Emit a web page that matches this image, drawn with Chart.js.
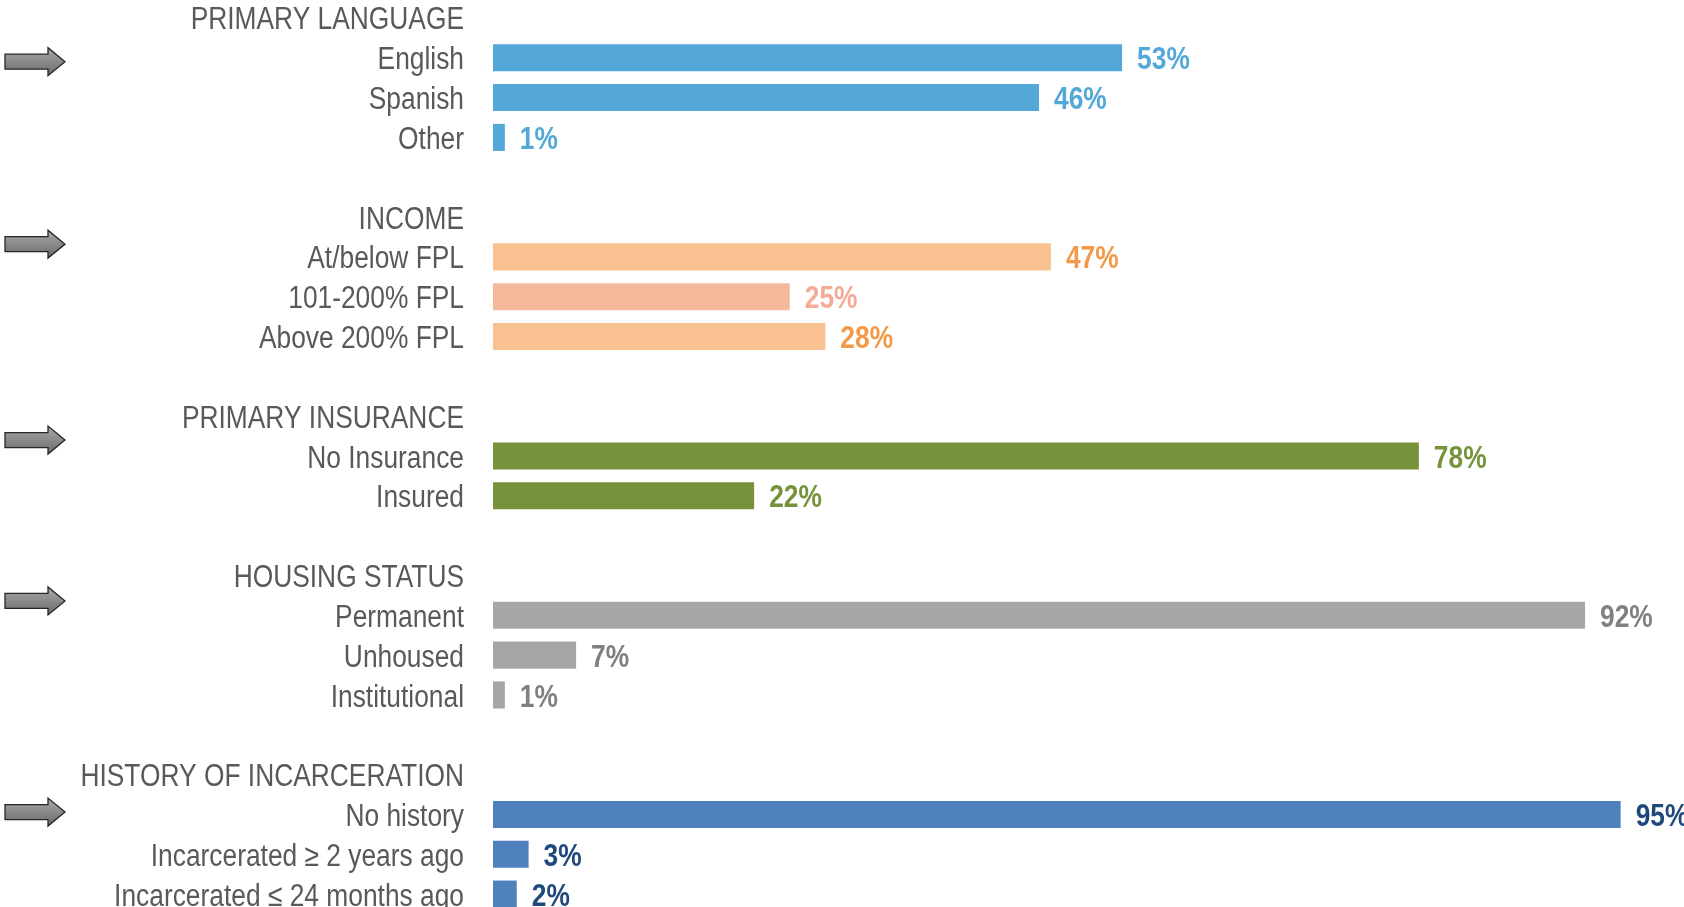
<!DOCTYPE html>
<html>
<head>
<meta charset="utf-8">
<script src="https://cdn.jsdelivr.net/npm/chart.js@4.4.1/dist/chart.umd.min.js"></script>
<style>
  html, body { margin: 0; padding: 0; background: #fff; overflow: hidden; }
  #wrap { position: relative; width: 1684px; height: 907px; overflow: hidden; }
  #profileChart { position: absolute; left: 0; top: -2px; }
</style>
</head>
<body>
<div id="wrap"><canvas id="profileChart" width="1684" height="916"></canvas></div>
<script>
// rows: group headers, items, and blank spacer rows
const categories = [
    'PRIMARY LANGUAGE', 'English', 'Spanish', 'Other', '',
    'INCOME', 'At/below FPL', '101-200% FPL', 'Above 200% FPL', '',
    'PRIMARY INSURANCE', 'No Insurance', 'Insured', '',
    'HOUSING STATUS', 'Permanent', 'Unhoused', 'Institutional', '',
    'HISTORY OF INCARCERATION', 'No history', 'Incarcerated \u2265 2 years ago', 'Incarcerated \u2264 24 months ago'
];
const percents = [
    null, 53, 46, 1, null,
    null, 47, 25, 28, null,
    null, 78, 22, null,
    null, 92, 7, 1, null,
    null, 95, 3, 2
];
const barColors = [
    null, '#54A8D8', '#54A8D8', '#54A8D8', null,
    null, '#F9C18F', '#F4B89B', '#F9C18F', null,
    null, '#76933C', '#76933C', null,
    null, '#A6A6A6', '#A6A6A6', '#A6A6A6', null,
    null, '#4F81BD', '#4F81BD', '#4F81BD'
];
const labelColors = [
    null, '#54A8D8', '#54A8D8', '#54A8D8', null,
    null, '#F39A4A', '#F5AB96', '#F39A4A', null,
    null, '#76933C', '#76933C', null,
    null, '#808080', '#808080', '#808080', null,
    null, '#1F497D', '#1F497D', '#1F497D'
];
// arrows sit next to each group (fractional row index)
const arrowRows = [1.1, 5.68, 10.6, 14.64, 19.94];

// Liberation Sans squeezed sideways to look like Arial Narrow
const FONT = '"Liberation Sans", Arial, sans-serif';
const NARROW = 0.85;

function narrowText(ctx, text, x, y) {
    ctx.save();
    ctx.translate(x, y);
    ctx.scale(NARROW, 1);
    ctx.fillText(text, 0, 0);
    ctx.restore();
}

const rowLabels = {
    id: 'rowLabels',
    afterDraw(chart) {
        const ctx = chart.ctx;
        const y = chart.scales.y;
        ctx.save();
        ctx.font = '31px ' + FONT;
        ctx.fillStyle = '#595959';
        ctx.textAlign = 'right';
        ctx.textBaseline = 'middle';
        categories.forEach(function(c, i) {
            if (!c) return;
            narrowText(ctx, c, y.right - 29, y.getPixelForValue(i) + 3);
        });
        ctx.restore();
    }
};

const valueLabels = {
    id: 'valueLabels',
    afterDatasetsDraw(chart) {
        const ctx = chart.ctx;
        const meta = chart.getDatasetMeta(0);
        ctx.save();
        ctx.font = 'bold 31px ' + FONT;
        ctx.textAlign = 'left';
        ctx.textBaseline = 'middle';
        meta.data.forEach(function(bar, i) {
            const v = percents[i];
            if (v === null) return;
            ctx.fillStyle = labelColors[i];
            narrowText(ctx, v + '%', bar.x + 15, bar.y + 3);
        });
        ctx.restore();
    }
};

const arrows = {
    id: 'arrows',
    afterDraw(chart) {
        const ctx = chart.ctx;
        const y = chart.scales.y;
        ctx.save();
        arrowRows.forEach(function(r) {
            const cy = y.getPixelForValue(r);
            const x0 = 5, x1 = 65, head = 17, shaft = 7.5, half = 14;
            ctx.beginPath();
            ctx.moveTo(x0, cy - shaft);
            ctx.lineTo(x1 - head, cy - shaft);
            ctx.lineTo(x1 - head, cy - half);
            ctx.lineTo(x1, cy);
            ctx.lineTo(x1 - head, cy + half);
            ctx.lineTo(x1 - head, cy + shaft);
            ctx.lineTo(x0, cy + shaft);
            ctx.closePath();
            const g = ctx.createLinearGradient(0, cy - half, 0, cy + half);
            g.addColorStop(0, '#A8A8A8');
            g.addColorStop(0.5, '#8A8A8A');
            g.addColorStop(1, '#6A6A6A');
            ctx.fillStyle = g;
            ctx.fill();
            ctx.lineWidth = 1.3;
            ctx.strokeStyle = '#262626';
            ctx.stroke();
        });
        ctx.restore();
    }
};

const ctx = document.getElementById('profileChart').getContext('2d');
new Chart(ctx, {
    type: 'bar',
    data: {
        labels: categories,
        datasets: [{
            data: percents,
            backgroundColor: barColors,
            borderWidth: 0,
            categoryPercentage: 1,
            barPercentage: 0.68
        }]
    },
    options: {
        indexAxis: 'y',
        responsive: false,
        animation: false,
        devicePixelRatio: 1,
        layout: { padding: { top: 0, bottom: 0, left: 0, right: 4 } },
        plugins: {
            legend: { display: false },
            tooltip: { enabled: false }
        },
        scales: {
            x: {
                display: false,
                min: 0,
                max: 100
            },
            y: {
                grid: { display: false },
                border: { display: false },
                ticks: { display: false, autoSkip: false },
                afterFit: function(scale) {
                    scale.width = 493; // bars start here
                    scale.paddingTop = 0;
                    scale.paddingBottom = 0;
                }
            }
        }
    },
    plugins: [valueLabels, rowLabels, arrows]
});
</script>
</body>
</html>
